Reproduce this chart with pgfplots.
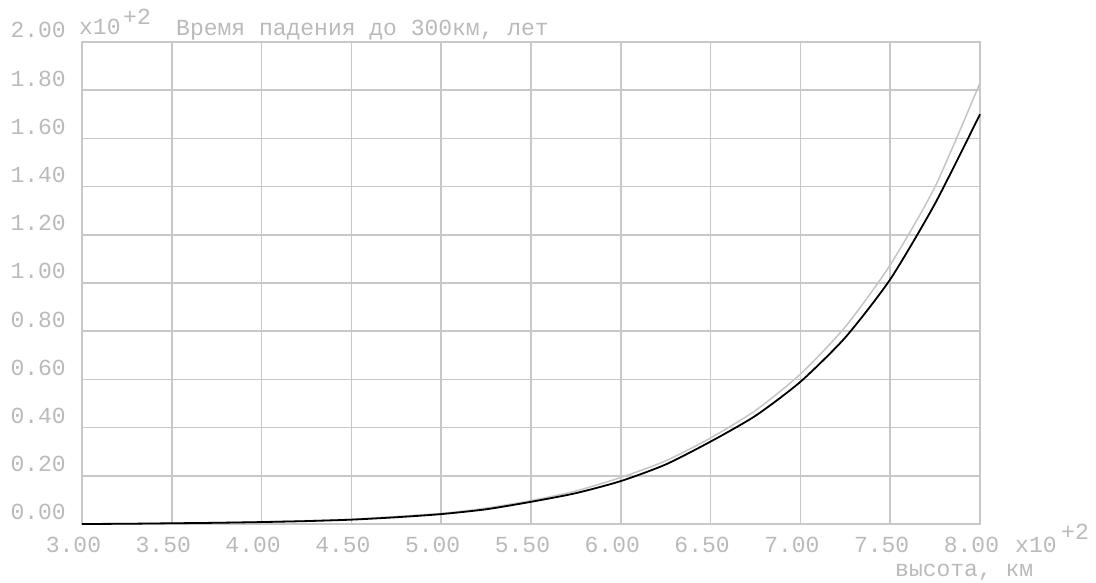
\documentclass[border=0pt]{standalone}
\usepackage{pgfplots}
\pgfplotsset{compat=1.18}
\usepackage{fontspec}
\setmainfont{Liberation Mono}
\setmonofont{Liberation Mono}

\definecolor{gridgray}{HTML}{C8C8C8}
\definecolor{textgray}{HTML}{BABABA}
\definecolor{curvegray}{HTML}{C4C4C4}

\newcommand{\lbl}{\fontsize{23}{23}\selectfont\color{textgray}}

\begin{document}
\begin{tikzpicture}
% page frame, 1 px = 1 pt, origin at the lower left corner of the plot box
\path[use as bounding box] (-82pt,-59pt) rectangle (1014pt,524pt);
\begin{axis}[
  scale only axis,
  width=898pt, height=482pt,
  xmin=300, xmax=800, ymin=0, ymax=200,
  xtick={300,350,...,800},
  ytick={0,20,...,200},
  xticklabels={3.00,3.50,4.00,4.50,5.00,5.50,6.00,6.50,7.00,7.50,8.00},
  yticklabels={0.00,0.20,0.40,0.60,0.80,1.00,1.20,1.40,1.60,1.80,2.00},
  scaled ticks=false,
  major tick length=0pt,
  grid=major,
  major grid style={draw=gridgray, line width=1.5pt},
  axis line style={draw=gridgray, line width=1.5pt},
  tick label style={font=\lbl, inner sep=0pt},
  xticklabel style={anchor=base, yshift=-29pt, xshift=-8.5pt},
  yticklabel style={anchor=base east, xshift=-16pt, yshift=4pt},
  clip=false,
]
% lighter curve
\addplot[curvegray, line width=1.5pt, smooth, tension=0.4] coordinates {
  (300,0) (350,0.3) (400,0.9) (450,2.0) (500,4.4) (525,6.6) (550,9.7)
  (575,13.7) (600,19.3) (625,26.2) (650,35.7) (675,47.1) (700,62.2)
  (725,81.8) (750,107.5) (775,140) (800,183)
};
% main curve
\addplot[black, line width=1.8pt, smooth, tension=0.4] coordinates {
  (300,0) (325,0.1) (350,0.3) (375,0.5) (400,0.8) (425,1.2) (450,1.8)
  (475,2.8) (500,4.1) (525,6.1) (550,9.2) (575,12.8) (600,17.8)
  (625,24.7) (650,34.2) (675,44.9) (700,59) (725,77.4) (750,101.5)
  (775,133) (800,170)
};
\end{axis}
% exponent marks, title and axis name
\node[anchor=base west, inner sep=0pt, font=\lbl] at (-3pt,489pt) {x10};
\node[anchor=base west, inner sep=0pt, font=\lbl] at (41pt,499pt) {+2};
\node[anchor=base west, inner sep=0pt, font=\lbl] at (94pt,488pt) {Время падения до 300км, лет};
\node[anchor=base west, inner sep=0pt, font=\lbl] at (933pt,-29pt) {x10};
\node[anchor=base west, inner sep=0pt, font=\lbl] at (979pt,-16pt) {+2};
\node[anchor=base west, inner sep=0pt, font=\lbl] at (813pt,-53pt) {высота, км};
\end{tikzpicture}
\end{document}
